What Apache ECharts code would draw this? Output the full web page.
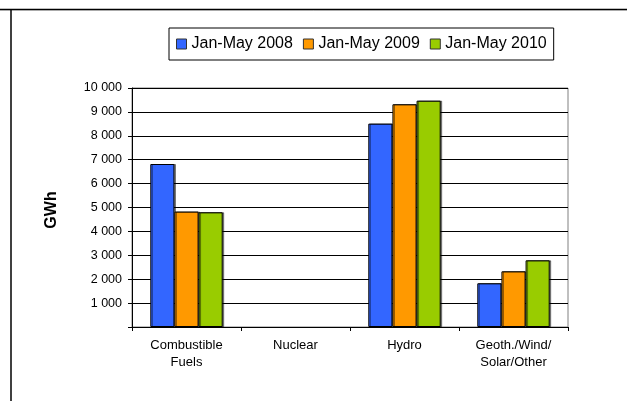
<!DOCTYPE html>
<html>
<head>
<meta charset="utf-8">
<script src="https://cdn.jsdelivr.net/npm/echarts@6/dist/echarts.min.js"></script>
<style>
html,body{margin:0;padding:0;background:#fff;}
#chart{width:627px;height:401px;}
</style>
</head>
<body>
<div id="chart"></div>
<script>
const categories = ['Combustible\nFuels', 'Nuclear', 'Hydro', 'Geoth./Wind/\nSolar/Other'];
const seriesNames = ['Jan-May 2008', 'Jan-May 2009', 'Jan-May 2010'];
const values2008 = [6820, 0, 8510, 1830];
const values2009 = [4830, 0, 9320, 2330];
const values2010 = [4800, 0, 9470, 2790];
const colors = ['#3366FF', '#FF9900', '#99CC00'];
const yTicks = { min: 0, max: 10000, interval: 1000 };

function fmt(v) {
  if (v === 0) return '';
  const s = String(v);
  return s.replace(/\B(?=(\d{3})+(?!\d))/g, ' ');
}

const chart = echarts.init(document.getElementById('chart'), null, { renderer: 'canvas' });
const data = [values2008, values2009, values2010];

chart.setOption({
  animation: false,
  backgroundColor: '#fff',
  textStyle: { fontFamily: 'Liberation Sans, Arial, sans-serif', color: '#000' },
  grid: {
    left: 132, right: 59, top: 88, bottom: 74,
    show: true, borderColor: '#808080', borderWidth: 1, backgroundColor: 'transparent'
  },
  legend: {
    left: 169, top: 28,
    padding: [8, 7, 8, 7],
    borderColor: '#000', borderWidth: 1,
    itemWidth: 10, itemHeight: 10, itemGap: 10,
    icon: 'rect',
    itemStyle: { borderColor: '#333', borderWidth: 1 },
    textStyle: { fontSize: 16, color: '#000', fontFamily: 'Liberation Sans, Arial, sans-serif' },
    data: seriesNames
  },
  xAxis: {
    type: 'category',
    data: categories,
    boundaryGap: true,
    axisLine: { lineStyle: { color: '#000', width: 1 } },
    axisTick: { show: true, length: 4, lineStyle: { color: '#000' } },
    axisLabel: { fontSize: 13, lineHeight: 17, color: '#000', margin: 10, interval: 0 },
    splitLine: { show: false }
  },
  yAxis: {
    type: 'value',
    min: yTicks.min, max: yTicks.max, interval: yTicks.interval,
    axisLine: { show: true, lineStyle: { color: '#000', width: 1 } },
    axisTick: { show: true, length: 4, lineStyle: { color: '#000' } },
    axisLabel: { fontSize: 12.5, color: '#000', margin: 10, formatter: fmt },
    splitLine: { show: true, lineStyle: { color: '#000', width: 1 } }
  },
  series: seriesNames.map((name, i) => ({
    name: name,
    type: 'bar',
    data: data[i].map(v => v === 0
      ? { value: v, itemStyle: { borderWidth: 0, shadowColor: 'transparent', opacity: 0 } }
      : v),
    barGap: '0%',
    barCategoryGap: '33.6%',
    itemStyle: {
      color: colors[i],
      borderColor: '#000',
      borderWidth: 1,
      shadowColor: 'rgba(0,0,0,0.45)',
      shadowOffsetX: 1.5,
      shadowOffsetY: 0,
      shadowBlur: 0
    }
  })),
  graphic: [
    { type: 'line', shape: { x1: 0, y1: 9.5, x2: 627, y2: 9.5 }, style: { stroke: '#000', lineWidth: 1.5 } },
    { type: 'line', shape: { x1: 0, y1: 10.5, x2: 627, y2: 10.5 }, style: { stroke: '#aaa', lineWidth: 1 } },
    { type: 'line', shape: { x1: 11, y1: 9, x2: 11, y2: 401 }, style: { stroke: '#000', lineWidth: 1.5 } },
    {
      type: 'text', x: 52, y: 210, rotation: Math.PI / 2,
      style: { text: 'GWh', font: 'bold 16px "Liberation Sans", Arial, sans-serif', fill: '#000', align: 'center', verticalAlign: 'middle' }
    }
  ]
});
</script>
</body>
</html>
